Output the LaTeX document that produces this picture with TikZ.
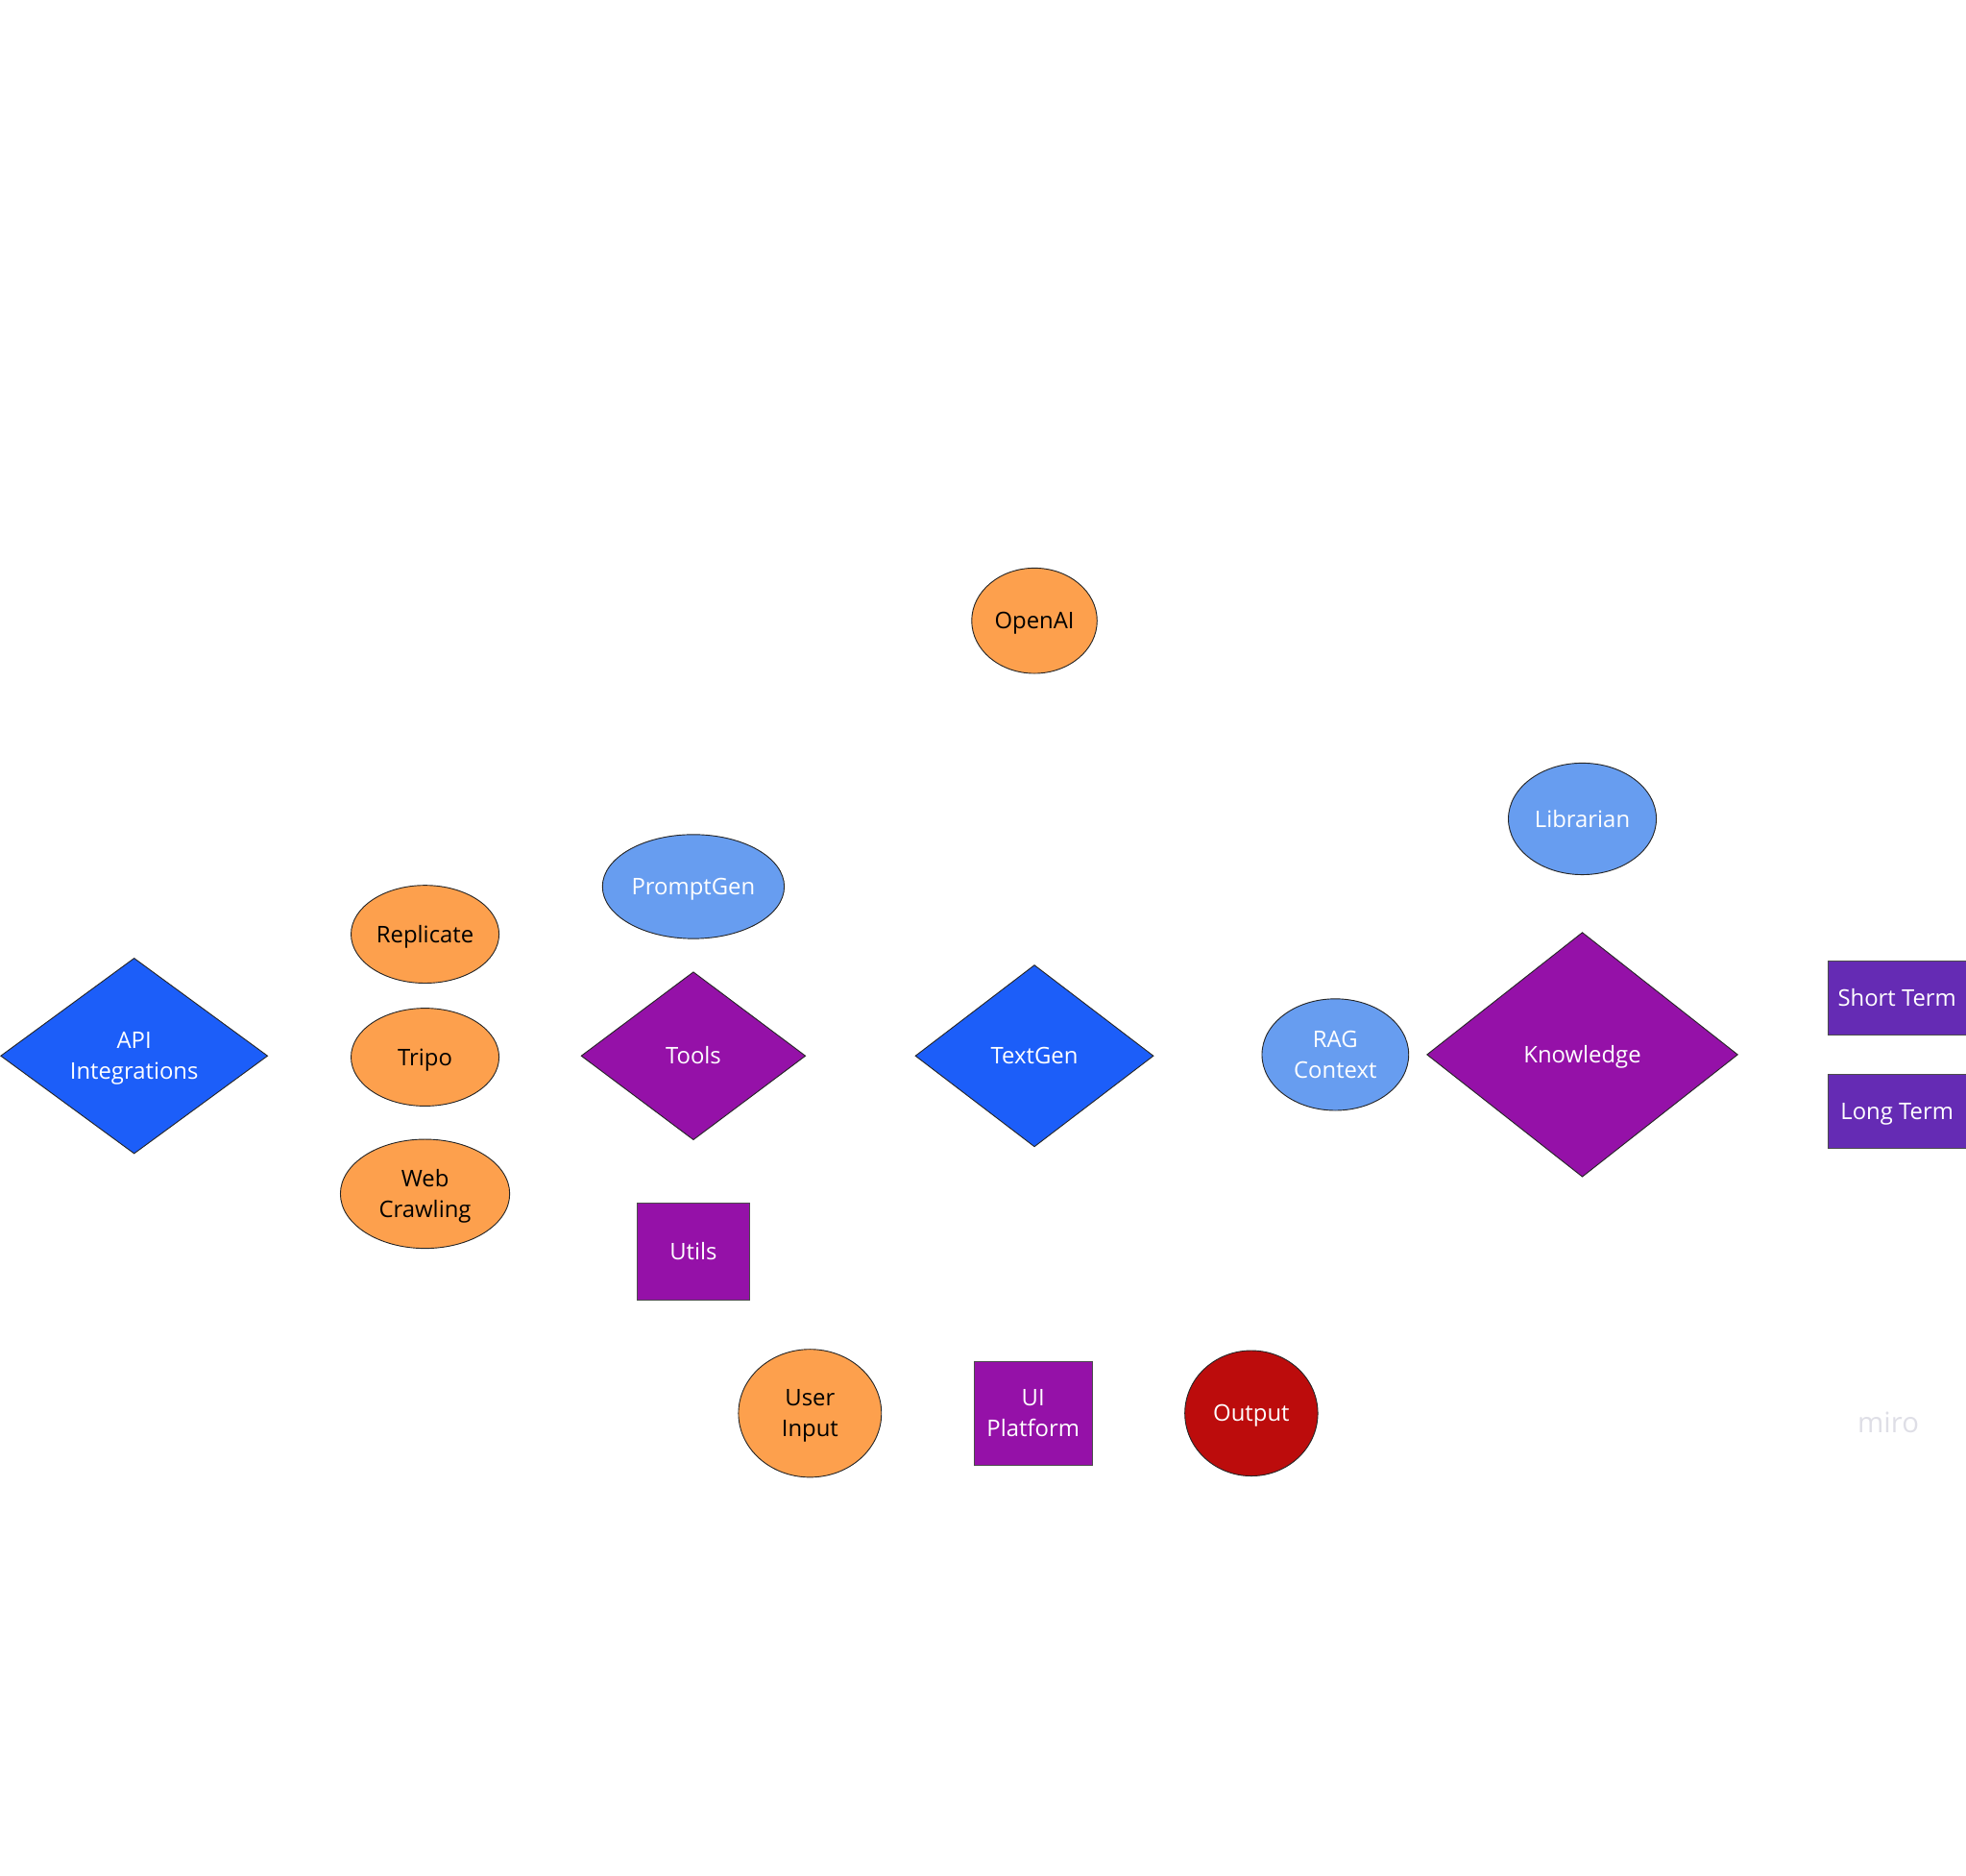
\documentclass[tikz,border=0pt]{standalone}
\usepackage{fontspec}
\setmainfont{Open Sans}
\usetikzlibrary{%
		shapes.geometric%
	}

\definecolor{boardorange}{RGB}{253,160,77}
\definecolor{boardsky}{RGB}{103,157,240}
\definecolor{boardblue}{RGB}{28,94,249}
\definecolor{boardpurple}{RGB}{149,17,168}
\definecolor{boardviolet}{RGB}{101,43,180}
\definecolor{boardred}{RGB}{188,12,12}
\definecolor{boardmark}{RGB}{222,222,230}

\tikzset{
	card/.style={draw=black!85, line width=0.5pt, inner sep=0pt, align=center, text height=9.3pt, text depth=0pt, font=\fontsize{13}{17.6}\selectfont},
	twoline/.style={text height=26.9pt},
	oval/.style={card, ellipse, fill=boardorange, text=black},
	skyoval/.style={card, ellipse, fill=boardsky, text=white},
	hub/.style={card, diamond, text=white},
	block/.style={card, rectangle, draw=black!70, fill=boardpurple, text=white},
}

\begin{document}
\begin{tikzpicture}[x=0.25mm, y=-0.25mm]
			% page
			\useasboundingbox (0,0) rectangle (1568,1496);
			% api integrations
			\node[hub, twoline, fill=boardblue, minimum width=53.25mm, minimum height=39mm] (api) at (107,842) {API\\Integrations};
			% services of the api
			\node[oval, minimum width=29.5mm, minimum height=19.5mm] (replicate) at (339,745) {Replicate};
			\node[oval, minimum width=29.5mm, minimum height=19.5mm] (tripo) at (339,843) {Tripo};
			\node[oval, twoline, minimum width=33.75mm, minimum height=21.75mm] (crawl) at (339,952) {Web\\Crawling};
			% tools
			\node[skyoval, minimum width=36.25mm, minimum height=20.75mm] (promptgen) at (553,707) {PromptGen};
			\node[hub, fill=boardpurple, minimum width=44.75mm, minimum height=33.5mm] (tools) at (553,842) {Tools};
			\node[block, minimum width=22.25mm, minimum height=19.5mm] (utils) at (553,998) {Utils};
			% textgen
			\node[oval, minimum width=25mm, minimum height=21mm] (openai) at (825,495) {OpenAI};
			\node[hub, fill=boardblue, minimum width=47.5mm, minimum height=36.25mm] (textgen) at (825,842) {TextGen};
			% bottom row
			\node[oval, twoline, minimum width=28.5mm, minimum height=25.5mm] (input) at (646,1127) {User\\Input};
			\node[block, twoline, minimum width=23.5mm, minimum height=20.75mm] (platform) at (824,1127) {UI\\Platform};
			\node[card, ellipse, fill=boardred, text=white, minimum width=26.5mm, minimum height=25mm] (output) at (998,1127) {Output};
			% knowledge
			\node[skyoval, twoline, minimum width=29.25mm, minimum height=22.25mm] (rag) at (1065,841) {RAG\\Context};
			\node[skyoval, minimum width=29.5mm, minimum height=22.25mm] (librarian) at (1262,653) {Librarian};
			\node[hub, fill=boardpurple, minimum width=62mm, minimum height=48.75mm] (knowledge) at (1262,841) {Knowledge};
			% memory
			\node[block, fill=boardviolet, minimum width=27.5mm, minimum height=14.75mm] (shortterm) at (1513,796) {Short Term};
			\node[block, fill=boardviolet, minimum width=27.5mm, minimum height=14.75mm] (longterm) at (1513,886) {Long Term};
			% watermark
			\node[text=boardmark, font=\fontsize{16}{18}\selectfont] (mark) at (1506,1134) {miro};
		\end{tikzpicture}
\end{document}
